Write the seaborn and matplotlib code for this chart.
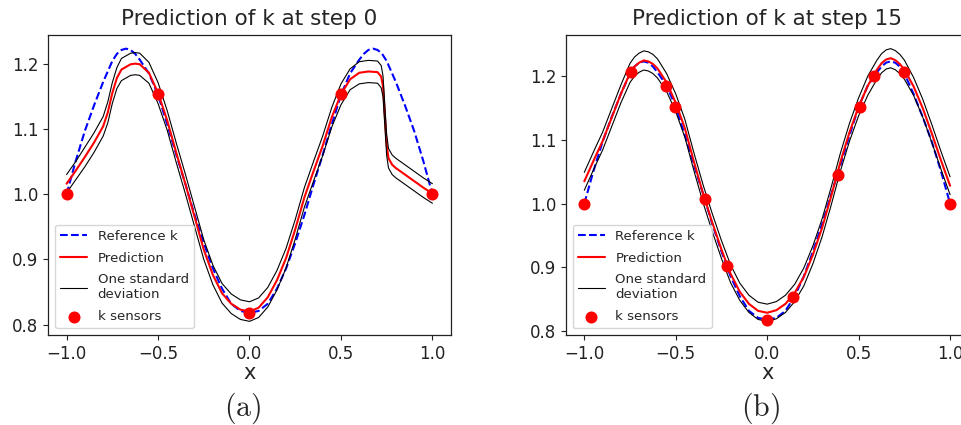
import numpy as np
import matplotlib
matplotlib.use("Agg")
import matplotlib.pyplot as plt
import seaborn as sns

# ---------------- data ----------------
# reference k (shared by both panels)
x_ref = [-1.00, -0.95, -0.90, -0.85, -0.80, -0.75, -0.725, -0.70, -0.675, -0.65,
         -0.625, -0.60, -0.55, -0.50, -0.45, -0.40, -0.35, -0.30, -0.25, -0.20,
         -0.15, -0.10, -0.05, 0.00, 0.05, 0.10, 0.15, 0.20, 0.25, 0.30,
         0.35, 0.40, 0.45, 0.50, 0.55, 0.60, 0.625, 0.65, 0.675, 0.70,
         0.725, 0.75, 0.80, 0.85, 0.90, 0.95, 1.00]
k_ref = [1.000, 1.051, 1.097, 1.136, 1.172, 1.204, 1.215, 1.221, 1.223, 1.221,
         1.215, 1.206, 1.185, 1.152, 1.107, 1.060, 1.015, 0.968, 0.925, 0.886,
         0.855, 0.832, 0.821, 0.818, 0.821, 0.832, 0.855, 0.886, 0.925, 0.968,
         1.015, 1.060, 1.107, 1.152, 1.185, 1.206, 1.215, 1.221, 1.223, 1.221,
         1.215, 1.204, 1.172, 1.136, 1.097, 1.051, 1.000]

# step 0 prediction and its standard deviation
x_a = [-1.00, -0.95, -0.90, -0.85, -0.80, -0.775, -0.75, -0.725, -0.70, -0.65,
       -0.625, -0.60, -0.55, -0.50, -0.45, -0.40, -0.35, -0.30, -0.25, -0.20,
       -0.15, -0.10, -0.05, 0.00, 0.05, 0.10, 0.15, 0.20, 0.25, 0.30,
       0.35, 0.40, 0.45, 0.50, 0.55, 0.60, 0.65, 0.70, 0.72, 0.73,
       0.74, 0.75, 0.76, 0.78, 0.80, 0.85, 0.90, 0.95, 1.00]
pred_a = [1.016, 1.036, 1.057, 1.079, 1.104, 1.125, 1.155, 1.178, 1.191, 1.199,
          1.200, 1.199, 1.186, 1.155, 1.113, 1.063, 1.015, 0.965, 0.915, 0.876,
          0.848, 0.832, 0.823, 0.820, 0.826, 0.842, 0.868, 0.902, 0.946, 0.995,
          1.035, 1.074, 1.118, 1.153, 1.176, 1.186, 1.188, 1.187, 1.180, 1.165,
          1.120, 1.075, 1.055, 1.045, 1.040, 1.030, 1.020, 1.010, 1.001]
std_a = [0.014, 0.014, 0.015, 0.015, 0.015, 0.016, 0.016, 0.016, 0.017, 0.017,
         0.017, 0.017, 0.016, 0.016, 0.015, 0.015, 0.015, 0.015, 0.015, 0.015,
         0.015, 0.015, 0.015, 0.015, 0.015, 0.015, 0.015, 0.015, 0.015, 0.015,
         0.015, 0.015, 0.015, 0.016, 0.016, 0.017, 0.017, 0.017, 0.017, 0.016,
         0.016, 0.016, 0.015, 0.015, 0.015, 0.015, 0.015, 0.015, 0.015]
sens_x_a = [-1.0, -0.5, 0.0, 0.5, 1.0]
sens_k_a = [1.000, 1.153, 0.818, 1.153, 1.000]

# step 15 prediction and its standard deviation
x_b = [-1.00, -0.95, -0.90, -0.85, -0.80, -0.75, -0.725, -0.70, -0.675, -0.65,
       -0.625, -0.60, -0.55, -0.50, -0.45, -0.40, -0.35, -0.30, -0.25, -0.20,
       -0.15, -0.10, -0.05, 0.00, 0.05, 0.10, 0.15, 0.20, 0.25, 0.30,
       0.35, 0.40, 0.45, 0.50, 0.55, 0.60, 0.625, 0.65, 0.675, 0.70,
       0.725, 0.75, 0.80, 0.85, 0.90, 0.95, 1.00]
pred_b = [1.035, 1.067, 1.098, 1.135, 1.172, 1.205, 1.215, 1.221, 1.2245, 1.223,
          1.219, 1.212, 1.190, 1.158, 1.118, 1.065, 1.015, 0.970, 0.928, 0.890,
          0.862, 0.843, 0.832, 0.829, 0.833, 0.843, 0.860, 0.885, 0.920, 0.962,
          1.012, 1.065, 1.112, 1.152, 1.185, 1.210, 1.220, 1.226, 1.228, 1.225,
          1.219, 1.210, 1.184, 1.150, 1.110, 1.068, 1.028]
std_b = [0.014, 0.014, 0.014, 0.014, 0.014, 0.015, 0.015, 0.015, 0.015, 0.015,
         0.015, 0.015, 0.014, 0.014, 0.014, 0.014, 0.014, 0.014, 0.014, 0.014,
         0.0135, 0.0135, 0.0135, 0.0135, 0.0135, 0.0135, 0.0135, 0.014, 0.014, 0.014,
         0.014, 0.014, 0.014, 0.014, 0.015, 0.015, 0.015, 0.015, 0.015, 0.015,
         0.015, 0.015, 0.014, 0.014, 0.014, 0.014, 0.014]
sens_x_b = [-1.0, -0.743, -0.551, -0.504, -0.341, -0.222, 0.0, 0.143, 0.385,
            0.505, 0.586, 0.746, 1.0]
sens_k_b = [1.000, 1.207, 1.185, 1.152, 1.007, 0.903, 0.818, 0.853, 1.045,
            1.152, 1.200, 1.207, 1.000]

titles = ["Prediction of k at step 0", "Prediction of k at step 15"]
captions = ["(a)", "(b)"]
xticks = [-1.0, -0.5, 0.0, 0.5, 1.0]
yticks = [0.8, 0.9, 1.0, 1.1, 1.2]

# ---------------- figure ----------------
sns.set_style("ticks")
plt.rcParams.update({
    "font.family": ["DejaVu Sans"],
    "axes.edgecolor": "#222222",
    "axes.linewidth": 0.9,
    "xtick.color": "#222222",
    "ytick.color": "#222222",
    "xtick.major.size": 3.5,
    "ytick.major.size": 3.5,
    "xtick.direction": "out",
    "ytick.direction": "out",
})

fig = plt.figure(figsize=(9.61, 4.25), dpi=100)
ax_a = fig.add_axes([48.3 / 961, 90 / 425, 402.4 / 961, 300 / 425])
ax_b = fig.add_axes([566 / 961, 90 / 425, 402.4 / 961, 300 / 425])

panels = [
    (ax_a, x_a, pred_a, std_a, sens_x_a, sens_k_a),
    (ax_b, x_b, pred_b, std_b, sens_x_b, sens_k_b),
]

for i, (ax, xs, pr, sd, sx, sk) in enumerate(panels):
    xs = np.asarray(xs)
    pr = np.asarray(pr)
    sd = np.asarray(sd)
    sns.lineplot(x=x_ref, y=k_ref, ax=ax, color="blue", linestyle="--",
                 linewidth=1.5, label="Reference k")
    sns.lineplot(x=xs, y=pr, ax=ax, color="red", linewidth=1.5,
                 label="Prediction")
    sns.lineplot(x=xs, y=pr + sd, ax=ax, color="black", linewidth=0.8,
                 label="One standard\ndeviation")
    sns.lineplot(x=xs, y=pr - sd, ax=ax, color="black", linewidth=0.8)
    sns.scatterplot(x=sx, y=sk, ax=ax, color="red", s=75, linewidth=0,
                    label="k sensors", zorder=5)
    ax.set_xticks(xticks)
    ax.set_yticks(yticks)
    ax.tick_params(labelsize=12)
    ax.set_xlabel("x", fontsize=15, labelpad=0.5)
    ax.set_ylabel("")
    ax.set_title(titles[i], fontsize=15.5, pad=7)
    for s in ["top", "right", "left", "bottom"]:
        ax.spines[s].set_visible(True)
    ax.legend(loc="lower left", fontsize=9.6, labelspacing=0.65)

fig.text(242.5 / 961, 17 / 425, r"$\mathrm{(a)}$", math_fontfamily="cm",
         fontsize=21.5, ha="center", va="center")
fig.text(760 / 961, 17 / 425, r"$\mathrm{(b)}$", math_fontfamily="cm",
         fontsize=21.5, ha="center", va="center")

fig.savefig("out.png", dpi=100)
